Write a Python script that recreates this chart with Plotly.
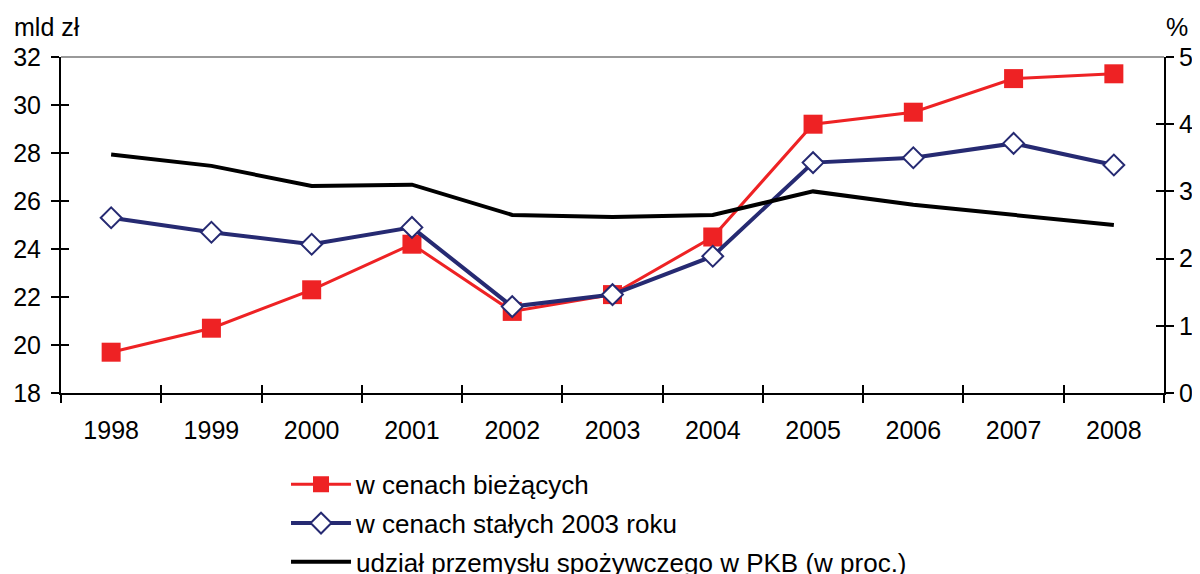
import plotly.graph_objects as go

years = ["1998", "1999", "2000", "2001", "2002", "2003", "2004", "2005", "2006", "2007", "2008"]
current_prices = [19.7, 20.7, 22.3, 24.2, 21.4, 22.1, 24.5, 29.2, 29.7, 31.1, 31.3]
constant_prices = [25.3, 24.7, 24.2, 24.9, 21.6, 22.1, 23.7, 27.6, 27.8, 28.4, 27.5]
gdp_share = [3.55, 3.38, 3.08, 3.1, 2.65, 2.62, 2.65, 3.0, 2.8, 2.65, 2.5]

font = dict(family="Liberation Sans, Arial, sans-serif", size=25, color="black")
legend_font = dict(family="Liberation Sans, Arial, sans-serif", size=26, color="black")

fig = go.Figure()
fig.add_trace(go.Scatter(
    x=years, y=current_prices, name="w cenach bieżących",
    mode="lines+markers", legendgroup="a",
    line=dict(color="#ee2224", width=3),
    marker=dict(symbol="square", size=19, color="#ee2224"),
))
fig.add_trace(go.Scatter(
    x=years, y=constant_prices, name="w cenach stałych 2003 roku",
    mode="lines+markers", legendgroup="b",
    line=dict(color="#262a72", width=4),
    marker=dict(symbol="diamond", size=16, color="white", line=dict(color="#262a72", width=2)),
))
fig.add_trace(go.Scatter(
    x=years, y=gdp_share, name="udział przemysłu spożywczego w PKB (w proc.)",
    mode="lines", legendgroup="c", yaxis="y2",
    line=dict(color="black", width=4),
))
# invisible helpers so the inner tick axes get drawn
fig.add_trace(go.Scatter(x=years, y=current_prices, xaxis="x2", yaxis="y3",
                         mode="none", showlegend=False, hoverinfo="skip"))
fig.add_trace(go.Scatter(x=years, y=gdp_share, xaxis="x2", yaxis="y4",
                         mode="none", showlegend=False, hoverinfo="skip"))

tick_style = dict(ticklen=8, tickwidth=2, tickcolor="black", showgrid=False, zeroline=False)

# page body adds an 8px offset, so the figure is a little smaller than the window
fig.update_layout(
    width=1192, height=566,
    margin=dict(l=53, r=36, t=49, b=181, autoexpand=False),
    paper_bgcolor="white", plot_bgcolor="white",
    font=font,
    showlegend=True,
    legend=dict(
        x=0.204, y=-0.202, xanchor="left", yanchor="top",
        font=legend_font, itemwidth=60, tracegroupgap=2,
        bgcolor="rgba(0,0,0,0)",
    ),
    xaxis=dict(
        type="category", range=[-0.5, 10.5],
        showline=True, linecolor="black", linewidth=2,
        ticks="outside", tickson="boundaries", tickfont=font,
        ticklabelstandoff=14, **tick_style,
    ),
    xaxis2=dict(
        type="category", range=[-0.5, 10.5], overlaying="x", side="bottom",
        showline=False, ticks="inside", tickson="boundaries",
        showticklabels=False, **tick_style,
    ),
    yaxis=dict(
        range=[18, 32], dtick=2,
        showline=True, linecolor="black", linewidth=2,
        ticks="outside", tickfont=font, ticklabelstandoff=5, **tick_style,
    ),
    yaxis2=dict(
        range=[0, 5], dtick=1, overlaying="y", side="right",
        showline=True, linecolor="black", linewidth=2,
        ticks="outside", tickfont=font, ticklabelstandoff=0, **tick_style,
    ),
    yaxis3=dict(
        range=[18, 32], dtick=2, overlaying="y", side="left",
        ticks="inside", showticklabels=False, **tick_style,
    ),
    yaxis4=dict(
        range=[0, 5], dtick=1, overlaying="y", side="right",
        ticks="inside", showticklabels=False, **tick_style,
    ),
    shapes=[dict(
        type="line", xref="paper", yref="paper", x0=0, x1=1, y0=1, y1=1,
        line=dict(color="#999999", width=2), layer="below",
    )],
    annotations=[
        dict(text="mld zł", xref="paper", yref="paper", x=-0.0444, y=1.089,
             xanchor="left", yanchor="middle", showarrow=False, font=font),
        dict(text="%", xref="paper", yref="paper", x=1.0236, y=1.089,
             xanchor="right", yanchor="middle", showarrow=False, font=font),
    ],
)

fig.write_html("out.html")
